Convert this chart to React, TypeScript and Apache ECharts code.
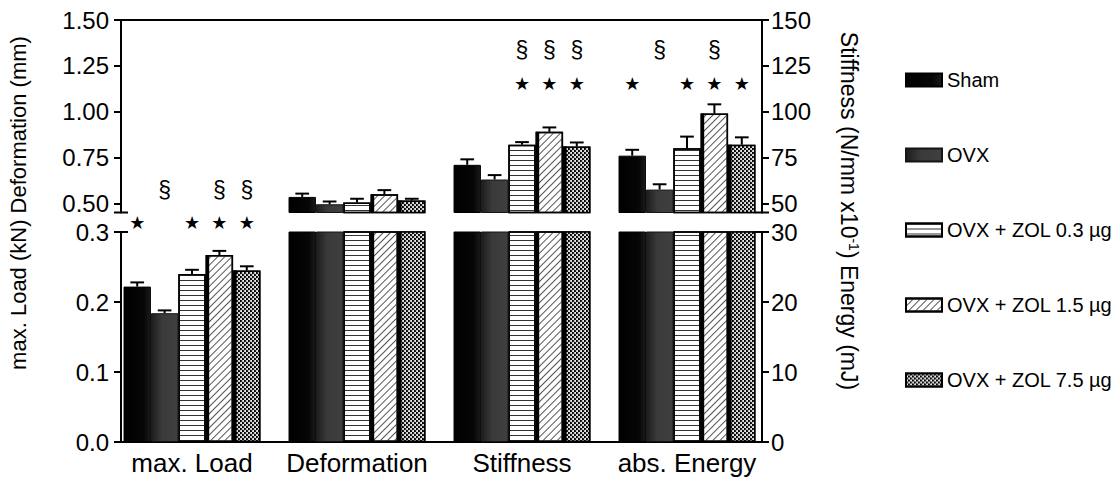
import React, { useEffect, useRef } from 'react';
import * as echarts from 'echarts';

// ---------- data ----------
const categories = ['max. Load', 'Deformation', 'Stiffness', 'abs. Energy'];
const groups = ['Sham', 'OVX', 'OVX + ZOL 0.3 µg', 'OVX + ZOL 1.5 µg', 'OVX + ZOL 7.5 µg'];

// left-axis quantities
const maxLoadMean = [0.222, 0.184, 0.24, 0.267, 0.245]; // kN
const maxLoadSd = [0.006, 0.004, 0.006, 0.006, 0.006];
const deformationMean = [0.535, 0.495, 0.505, 0.55, 0.515]; // mm
const deformationSd = [0.018, 0.015, 0.02, 0.022, 0.01];
// right-axis quantities
const stiffnessMean = [71, 63, 82, 89, 81]; // N/mm x10^-1
const stiffnessSd = [3, 2.4, 1.4, 2.4, 2.2];
const energyMean = [76, 57.5, 80, 99, 82]; // mJ
const energySd = [3.2, 2.9, 6.4, 5, 4];

// significance marks: per category, per group
const starFlags = [
  [1, 0, 1, 1, 1],
  [0, 0, 0, 0, 0],
  [0, 0, 1, 1, 1],
  [1, 0, 1, 1, 1],
];
const sectionFlags = [
  [0, 1, 0, 1, 1],
  [0, 0, 0, 0, 0],
  [0, 0, 1, 1, 1],
  [0, 1, 0, 1, 0],
];

const upperLeftTicks = [0.5, 0.75, 1.0, 1.25, 1.5];
const upperRightTicks = [50, 75, 100, 125, 150];
const lowerLeftTicks = [0, 0.1, 0.2, 0.3];
const lowerRightTicks = [0, 10, 20, 30];

// ---------- layout / style constants ----------
const FONT = '"Liberation Sans", Arial, Helvetica, sans-serif';
const RIGHT_SCALE = 100; // right axis = left axis x 100
const CAT_GAP = 0.17;
const UPPER_MIN = 0.45;
const UPPER_MAX = 1.5;
const LOWER_MIN = 0;
const LOWER_MAX = 0.3;

const means = (g: number) => [
  maxLoadMean[g],
  deformationMean[g],
  stiffnessMean[g] / RIGHT_SCALE,
  energyMean[g] / RIGHT_SCALE,
];
const sds = (g: number) => [
  maxLoadSd[g],
  deformationSd[g],
  stiffnessSd[g] / RIGHT_SCALE,
  energySd[g] / RIGHT_SCALE,
];

const itemStyles: any[] = [
  {
    color: {
      type: 'linear', x: 0, y: 0, x2: 1, y2: 0,
      colorStops: [
        { offset: 0, color: '#000' },
        { offset: 0.75, color: '#060606' },
        { offset: 1, color: '#1c1c1c' },
      ],
    },
    borderColor: '#000',
    borderWidth: 1,
  },
  {
    color: {
      type: 'linear', x: 0, y: 0, x2: 1, y2: 0,
      colorStops: [
        { offset: 0, color: '#1c1c1c' },
        { offset: 0.4, color: '#3a3a3a' },
        { offset: 1, color: '#3f3f3f' },
      ],
    },
    borderColor: '#151515',
    borderWidth: 1,
  },
  {
    color: '#fff',
    borderColor: '#000',
    borderWidth: 1.5,
    decal: {
      symbol: 'rect',
      symbolSize: 1,
      color: '#333',
      backgroundColor: '#fff',
      dashArrayX: [1, 0],
      dashArrayY: [1, 4],
      rotation: 0,
    },
  },
  {
    color: '#fff',
    borderColor: '#000',
    borderWidth: 1.5,
    decal: {
      symbol: 'rect',
      symbolSize: 1,
      color: '#555',
      backgroundColor: '#fff',
      dashArrayX: [1, 0],
      dashArrayY: [1, 3.5],
      rotation: -Math.PI / 4,
    },
  },
  {
    color: '#000',
    borderColor: '#000',
    borderWidth: 1.5,
    decal: {
      symbol: 'circle',
      symbolSize: 1,
      color: '#fff',
      backgroundColor: '#000',
      dashArrayX: [[2, 2], [0, 2, 2, 0]],
      dashArrayY: [2, 0],
      rotation: 0,
    },
  },
];

function barGeom(api: any, cat: number, grp: number, val: number) {
  const band = api.size([1, 0])[0];
  const gw = band * (1 - CAT_GAP);
  const bw = gw / groups.length;
  const p = api.coord([cat, val]);
  return { left: p[0] - gw / 2 + grp * bw, bw, y: p[1] };
}

function errorSeries(xi: number, yi: number, cats: number[]) {
  const data: number[][] = [];
  groups.forEach((_, g) => {
    cats.forEach((c) => data.push([c, g, means(g)[c], sds(g)[c]]));
  });
  return {
    type: 'custom',
    xAxisIndex: xi,
    yAxisIndex: yi,
    silent: true,
    z: 4,
    data,
    renderItem: (params: any, api: any) => {
      const cat = api.value(0);
      const grp = api.value(1);
      const v = api.value(2);
      const sd = api.value(3);
      const { left, bw, y } = barGeom(api, cat, grp, v);
      const yc = api.coord([cat, v + sd])[1];
      const cx = left + bw / 2;
      const cw = bw * 0.5;
      const st = { stroke: '#000', lineWidth: 2 };
      return {
        type: 'group',
        children: [
          { type: 'line', shape: { x1: cx, y1: y, x2: cx, y2: yc }, style: st },
          { type: 'line', shape: { x1: cx - cw / 2, y1: yc, x2: cx + cw / 2, y2: yc }, style: st },
        ],
      };
    },
  };
}

function stripSeries(xi: number, yi: number, cats: number[]) {
  const data: number[][] = [];
  [3, 4].forEach((g) => {
    cats.forEach((c) => data.push([c, g, means(g)[c]]));
  });
  return {
    type: 'custom',
    xAxisIndex: xi,
    yAxisIndex: yi,
    silent: true,
    z: 3,
    data,
    renderItem: (params: any, api: any) => {
      const cat = api.value(0);
      const grp = api.value(1);
      const v = api.value(2);
      const { left, y } = barGeom(api, cat, grp, v);
      const cs = params.coordSys;
      const top = Math.max(cs.y, y);
      const bottom = cs.y + cs.height;
      if (bottom <= top) return null;
      return {
        type: 'rect',
        shape: { x: left, y: top, width: 3.5, height: bottom - top },
        style: { fill: '#000' },
      };
    },
  };
}

function markSeries() {
  const data: number[][] = [];
  categories.forEach((_, c) => {
    groups.forEach((__, g) => {
      const lowCat = c === 0;
      if (starFlags[c][g]) data.push([c, g, lowCat ? 0.398 : 1.156, 0]);
      if (sectionFlags[c][g]) data.push([c, g, lowCat ? 0.573 : 1.336, 1]);
    });
  });
  return {
    type: 'custom',
    xAxisIndex: 0,
    yAxisIndex: 0,
    silent: true,
    z: 5,
    data,
    renderItem: (params: any, api: any) => {
      const cat = api.value(0);
      const grp = api.value(1);
      const lvl = api.value(2);
      const kind = api.value(3);
      const { left, bw, y } = barGeom(api, cat, grp, lvl);
      return {
        type: 'text',
        x: left + bw / 2,
        y,
        style: kind === 0
          ? { text: '★', fontSize: 18, fontFamily: '"DejaVu Sans", sans-serif', fill: '#000', align: 'center', verticalAlign: 'middle' }
          : { text: '§', fontSize: 23, fontFamily: FONT, fill: '#000', align: 'center', verticalAlign: 'middle' },
      };
    },
  };
}

function buildOption() {
  const axisLine = { show: true, onZero: false, lineStyle: { color: '#000', width: 2 } };
  const tick = (vals: number[]) => ({
    show: true,
    length: 7,
    customValues: vals,
    lineStyle: { color: '#000', width: 2 },
  });
  const label = (vals: number[], digits: number, margin: number) => ({
    show: true,
    customValues: vals,
    formatter: (v: number) => v.toFixed(digits),
    fontSize: 24,
    color: '#000',
    fontFamily: FONT,
    margin,
  });

  const series: any[] = [];
  groups.forEach((name, g) => {
    const m = means(g);
    series.push({
      type: 'bar',
      name,
      xAxisIndex: 0,
      yAxisIndex: 0,
      data: [null, m[1], m[2], m[3]],
      barGap: '0%',
      barCategoryGap: `${CAT_GAP * 100}%`,
      itemStyle: itemStyles[g],
      clip: true,
      silent: true,
    });
    series.push({
      type: 'bar',
      name,
      xAxisIndex: 1,
      yAxisIndex: 1,
      data: m,
      barGap: '0%',
      barCategoryGap: `${CAT_GAP * 100}%`,
      itemStyle: itemStyles[g],
      clip: true,
      silent: true,
    });
  });
  series.push(stripSeries(0, 0, [1, 2, 3]));
  series.push(stripSeries(1, 1, [0, 1, 2, 3]));
  series.push(errorSeries(0, 0, [1, 2, 3]));
  series.push(errorSeries(1, 1, [0]));
  series.push(markSeries());

  const hiddenValueX = (gi: number, pos: string) => ({
    type: 'value',
    gridIndex: gi,
    position: pos,
    min: 0,
    max: 1,
    axisLine,
    axisTick: { show: false },
    axisLabel: { show: false },
    splitLine: { show: false },
  });

  return {
    animation: false,
    backgroundColor: '#fff',
    textStyle: { fontFamily: FONT },
    grid: [
      { left: 109.5, top: 20, width: 660, height: 192.5 },
      { left: 109.5, top: 232, width: 660, height: 210 },
      { left: 121, top: 20, width: 641, height: 192.5 },
      { left: 121, top: 232, width: 641, height: 210 },
    ],
    xAxis: [
      { type: 'category', gridIndex: 0, data: categories, show: false },
      {
        type: 'category',
        gridIndex: 1,
        data: categories,
        axisLine: { show: false },
        axisTick: { show: false },
        splitLine: { show: false },
        axisLabel: { interval: 0, hideOverlap: false, fontSize: 26, color: '#000', fontFamily: FONT, margin: 8 },
      },
      hiddenValueX(2, 'top'),
      hiddenValueX(3, 'bottom'),
    ],
    yAxis: [
      { type: 'value', gridIndex: 0, min: UPPER_MIN, max: UPPER_MAX, show: false },
      { type: 'value', gridIndex: 1, min: LOWER_MIN, max: LOWER_MAX, show: false },
      {
        type: 'value', gridIndex: 2, position: 'left', min: UPPER_MIN, max: UPPER_MAX,
        axisLine, axisTick: tick(upperLeftTicks), axisLabel: label(upperLeftTicks, 2, 12),
        splitLine: { show: false },
      },
      {
        type: 'value', gridIndex: 2, position: 'right',
        min: UPPER_MIN * RIGHT_SCALE, max: UPPER_MAX * RIGHT_SCALE,
        axisLine, axisTick: tick(upperRightTicks), axisLabel: label(upperRightTicks, 0, 9),
        splitLine: { show: false },
      },
      {
        type: 'value', gridIndex: 3, position: 'left', min: LOWER_MIN, max: LOWER_MAX,
        axisLine, axisTick: tick(lowerLeftTicks), axisLabel: label(lowerLeftTicks, 1, 12),
        splitLine: { show: false },
      },
      {
        type: 'value', gridIndex: 3, position: 'right',
        min: LOWER_MIN * RIGHT_SCALE, max: LOWER_MAX * RIGHT_SCALE,
        axisLine, axisTick: tick(lowerRightTicks), axisLabel: label(lowerRightTicks, 0, 9),
        splitLine: { show: false },
      },
    ],
    legend: {
      orient: 'vertical',
      left: 900,
      top: 65,
      itemWidth: 36,
      itemHeight: 13,
      itemGap: 55,
      icon: 'rect',
      selectedMode: false,
      data: groups,
      textStyle: { fontSize: 20, lineHeight: 20, color: '#000', fontFamily: FONT },
    },
    graphic: [
      {
        type: 'text',
        x: 18,
        y: 203,
        rotation: Math.PI / 2,
        style: {
          text: 'max. Load (kN) Deformation (mm)',
          fontSize: 22,
          fontFamily: FONT,
          fill: '#000',
          align: 'center',
          verticalAlign: 'middle',
        },
      },
      {
        type: 'text',
        x: 849,
        y: 211,
        rotation: -Math.PI / 2,
        style: {
          text: 'Stiffness (N/mm x10{sup|-1}) Energy (mJ)',
          rich: {
            sup: { fontSize: 14, fontFamily: FONT, fill: '#000', verticalAlign: 'top' },
          },
          fontSize: 23,
          fontFamily: FONT,
          fill: '#000',
          align: 'center',
          verticalAlign: 'middle',
        },
      },
      { type: 'line', shape: { x1: 114, y1: 212.5, x2: 128, y2: 212.5 }, style: { stroke: '#000', lineWidth: 2 } },
      { type: 'line', shape: { x1: 114, y1: 232, x2: 128, y2: 232 }, style: { stroke: '#000', lineWidth: 2 } },
      { type: 'line', shape: { x1: 755, y1: 212.5, x2: 769, y2: 212.5 }, style: { stroke: '#000', lineWidth: 2 } },
      { type: 'line', shape: { x1: 755, y1: 232, x2: 769, y2: 232 }, style: { stroke: '#000', lineWidth: 2 } },
    ],
    series,
  };
}

export default function App() {
  const ref = useRef<HTMLDivElement>(null);
  useEffect(() => {
    if (!ref.current) return;
    const chart = echarts.init(ref.current, null, { renderer: 'svg' });
    chart.setOption(buildOption() as any);
    return () => chart.dispose();
  }, []);
  return (
    <div
      ref={ref}
      style={{ position: 'fixed', left: 0, top: 0, width: 1113, height: 483, background: '#fff' }}
    />
  );
}
